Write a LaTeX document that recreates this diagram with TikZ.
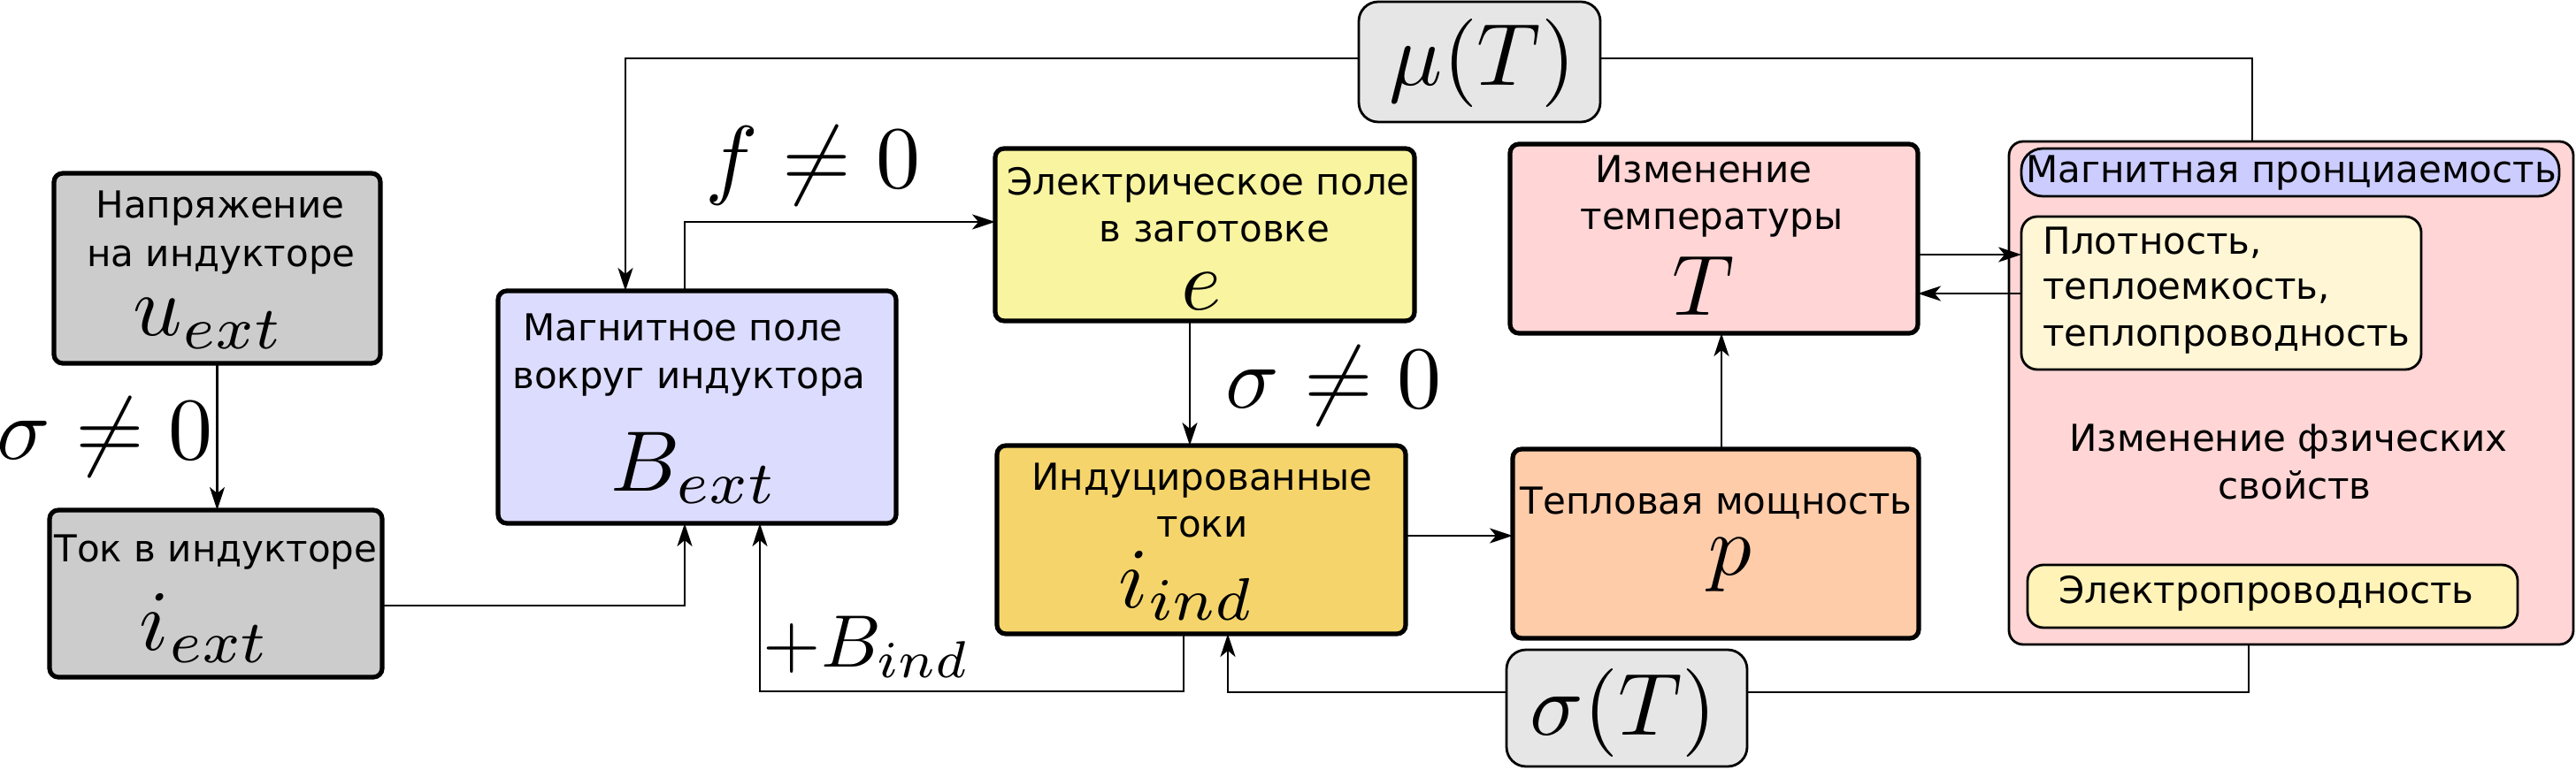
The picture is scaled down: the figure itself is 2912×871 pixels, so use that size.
\documentclass[tikz,border=0pt]{standalone}
\usepackage{fix-cm}
\usepackage{fontspec}
\newfontfamily\dv{DejaVu Sans}
\usetikzlibrary{arrows.meta}
\definecolor{cgray}{HTML}{CCCCCC}
\definecolor{clav}{HTML}{DCDCFF}
\definecolor{cyel}{HTML}{F8F4A0}
\definecolor{cgold}{HTML}{F5D56B}
\definecolor{cpink}{HTML}{FFD5D5}
\definecolor{cpeach}{HTML}{FFCCAA}
\definecolor{cblue}{HTML}{CCCCFF}
\definecolor{ccream}{HTML}{FFF6D5}
\definecolor{clyel}{HTML}{FFF3B8}
\definecolor{clgray}{HTML}{E6E6E6}
\begin{document}
\begin{tikzpicture}[x=0.5pt,y=-0.5pt,
 box/.style={draw,line width=2.6pt,rounded corners=5pt,inner sep=0pt,outer sep=0pt},
 thinbox/.style={draw,line width=1.4pt,inner sep=0pt,outer sep=0pt},
 txt/.style={anchor=base,inner sep=0pt,font=\dv\fontsize{21}{25}\selectfont},
 mth/.style={anchor=base,inner sep=0pt,font=\fontsize{10}{12}\selectfont,scale=4.85},
 lbl/.style={anchor=base,inner sep=0pt,font=\fontsize{10}{12}\selectfont,scale=5},
 con/.style={line width=1.25pt},
 arr/.style={con,-{Stealth[length=13pt,width=8.5pt,inset=3.5pt]}},
]
\useasboundingbox (0,0) rectangle (2912,871);
% main boxes
\node[box,fill=cgray,minimum width=184.5pt,minimum height=107.5pt] (uext) at (245.5,303.5) {};
\node[box,fill=cgray,minimum width=188pt,minimum height=94.5pt] (iext) at (244,671.5) {};
\node[box,fill=clav,minimum width=225pt,minimum height=131.5pt] (Bext) at (788,460.5) {};
\node[box,fill=cyel,minimum width=237pt,minimum height=97.5pt] (efield) at (1362,265.5) {};
\node[box,fill=cgold,minimum width=231pt,minimum height=106.5pt] (iind) at (1358,610.5) {};
\node[box,fill=cpink,minimum width=230.5pt,minimum height=107pt] (Tbox) at (1937.5,270) {};
\node[box,fill=cpeach,minimum width=229.5pt,minimum height=107pt] (pbox) at (1939.5,615) {};
% right big box
\node[thinbox,fill=cpink,rounded corners=8pt,minimum width=319pt,minimum height=284.5pt] (big) at (2590,444.5) {};
\node[thinbox,fill=cblue,rounded corners=12pt,minimum width=304pt,minimum height=27pt] (mag) at (2589,195) {};
\node[thinbox,fill=ccream,rounded corners=9pt,minimum width=226pt,minimum height=86.5pt] (plot) at (2511,331.5) {};
\node[thinbox,fill=clyel,rounded corners=9pt,minimum width=277pt,minimum height=35.5pt] (elec) at (2569,674.5) {};
% parameter boxes
\node[thinbox,fill=clgray,rounded corners=11pt,minimum width=136.5pt,minimum height=68pt] (mu) at (1672.5,70) {};
\node[thinbox,fill=clgray,rounded corners=11pt,minimum width=136pt,minimum height=66pt] (sig) at (1839,801) {};
% texts
\node[txt] (t1) at (249,247) {Напряжение};
\node[txt] (t2) at (250,302) {на индукторе};
\node[mth] (m1) at (236,380) {$u_{ext}$};
\node[txt] (t3) at (244,635) {Ток в индукторе};
\node[mth] (m2) at (232,735) {$i_{ext}$};
\node[txt] (t4) at (772,386) {Магнитное поле};
\node[txt] (t5) at (779,440) {вокруг индуктора};
\node[mth] (m3) at (785,555) {$B_{ext}$};
\node[txt] (t6) at (1366,221) {Электрическое поле};
\node[txt] (t7) at (1373,274) {в заготовке};
\node[mth] (m4) at (1358,351) {$e$};
\node[txt] (t8) at (1359,554) {Индуцированные};
\node[txt] (t9) at (1359,607) {токи};
\node[mth] (m5) at (1342,687) {$i_{ind}$};
\node[txt] (t10) at (1926,207) {Изменение};
\node[txt] (t11) at (1935,260) {температуры};
\node[mth] (m6) at (1926,357) {$T$};
\node[txt] (t12) at (1940,581) {Тепловая мощность};
\node[mth] (m7) at (1956,650) {$p$};
\node[lbl] (mut) at (1676,97) {$\mu(T)$};
\node[lbl] (sigt) at (1835,831) {$\sigma(T)$};
\node[lbl] (l1) at (119,519) {$\sigma\neq0$};
\node[lbl] (l2) at (1508,461) {$\sigma\neq0$};
\node[lbl] (l3) at (919,213) {$f\neq0$};
\node[lbl,scale=0.84,anchor=base west] (l4) at (861,754) {$+B_{ind}$};
\node[txt] (r1) at (2590,207) {Магнитная пронциаемость};
\node[txt,anchor=base west] (r2) at (2309,288) {Плотность,};
\node[txt,anchor=base west] (r3) at (2309,339) {теплоемкость,};
\node[txt,anchor=base west] (r4) at (2309,392) {теплопроводность};
\node[txt] (r5) at (2587,510) {Изменение фзических};
\node[txt] (r6) at (2594,564) {свойств};
\node[txt] (r7) at (2562,682) {Электропроводность};
% helper coordinates
\coordinate (k1) at (774,685);
\coordinate (k2) at (774,251);
\coordinate (k3) at (1345,0);
\coordinate (k4) at (0,606);
\coordinate (k5) at (1946,0);
\coordinate (k6) at (1338,782);
\coordinate (k7) at (859,782);
\coordinate (k8) at (2542,783);
\coordinate (k9) at (1388,783);
\coordinate (m1c) at (707,66);
\coordinate (m2c) at (2546,66);
\coordinate (h1) at (0,288);
\coordinate (h2) at (0,332);
% connectors
\draw[arr] (uext.south) -- (uext.south |- iext.north);
\draw[arr] (iext.east |- k1) -| (Bext.south -| k1);
\draw[arr] (Bext.north -| k2) |- (efield.west |- k2);
\draw[arr] (mu.west |- m1c) -| (Bext.north -| m1c);
\draw[con] (mu.east |- m2c) -| (big.north -| m2c);
\draw[arr] (efield.south -| k3) -- (iind.north -| k3);
\draw[arr] (iind.east |- k4) -- (pbox.west |- k4);
\draw[arr] (pbox.north -| k5) -- (Tbox.south -| k5);
\draw[arr] (Tbox.east |- h1) -- (plot.west |- h1);
\draw[arr] (plot.west |- h2) -- (Tbox.east |- h2);
\draw[arr] (iind.south -| k6) |- (k7) -- (Bext.south -| k7);
\draw[con] (big.south -| k8) |- (sig.east |- k8);
\draw[arr] (sig.west |- k9) -| (iind.south -| k9);
\end{tikzpicture}
\end{document}
